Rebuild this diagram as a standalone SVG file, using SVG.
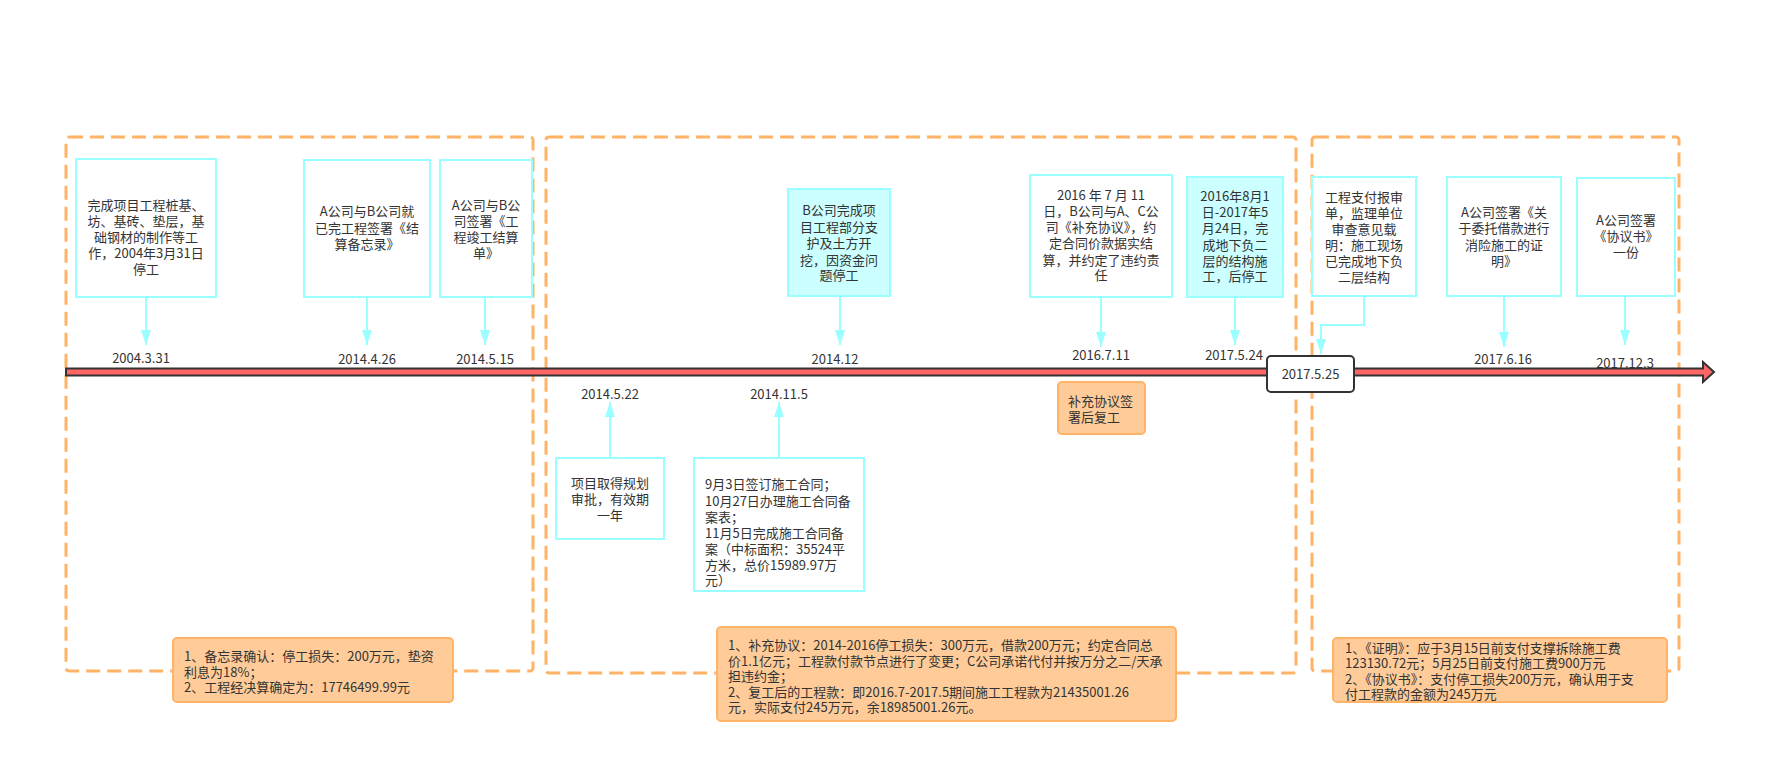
<svg xmlns="http://www.w3.org/2000/svg" width="1776" height="784" viewBox="0 0 1776 784">
<style>
.grp{fill:none;stroke:#FFB366;stroke-width:3;stroke-dasharray:14 7}
.node{fill:#FFFFFF;stroke:#99FFFF;stroke-width:2}
.nodef{fill:#CCFFFF;stroke:#99FFFF;stroke-width:2}
.note{fill:#FFCC99;stroke:#FFB366;stroke-width:2}
.conn{fill:none;stroke:#99FFFF;stroke-width:2}
text{font-family:"Noto Sans CJK SC","Noto Sans",sans-serif;font-size:13px;fill:#333333}
.c{text-anchor:middle}
</style>
<defs>
<marker id="ah" viewBox="0 0 15 10" refX="15" refY="5" markerWidth="15" markerHeight="10" markerUnits="userSpaceOnUse" orient="auto">
<path d="M0,0 L15,5 L0,10 Z" fill="#99FFFF"/>
</marker>
</defs>
<rect width="1776" height="784" fill="#FFFFFF"/>

<g id="groups">
<rect class="grp" x="66" y="137" width="467" height="534" rx="3"/>
<rect class="grp" x="546" y="137" width="750" height="536" rx="3"/>
<rect class="grp" x="1312" y="137" width="367" height="534" rx="3"/>
</g>

<g id="timeline">
<path d="M66,368.5 H1703 V362 L1714,372 L1703,382 V375.5 H66 Z" fill="#FF6666" stroke="#333333" stroke-width="2" stroke-linejoin="miter"/>
</g>

<g id="connectors">
<path class="conn" d="M146,297 V345" marker-end="url(#ah)"/>
<path class="conn" d="M367,297 V345" marker-end="url(#ah)"/>
<path class="conn" d="M485,297 V345" marker-end="url(#ah)"/>
<path class="conn" d="M840,296 V345" marker-end="url(#ah)"/>
<path class="conn" d="M1101,297 V347" marker-end="url(#ah)"/>
<path class="conn" d="M1235,297 V345" marker-end="url(#ah)"/>
<path class="conn" d="M1364,296 V325 H1321 V354" marker-end="url(#ah)"/>
<path class="conn" d="M1504,296 V347" marker-end="url(#ah)"/>
<path class="conn" d="M1625,296 V345" marker-end="url(#ah)"/>
<path class="conn" d="M610,458 V402" marker-end="url(#ah)"/>
<path class="conn" d="M779,458 V402" marker-end="url(#ah)"/>
</g>

<g id="dates">
<text class="c" x="141" y="363">2004.3.31</text>
<text class="c" x="367" y="363.5">2014.4.26</text>
<text class="c" x="485" y="363.5">2014.5.15</text>
<text class="c" x="835" y="363.5">2014.12</text>
<text class="c" x="1101" y="359.5">2016.7.11</text>
<text class="c" x="1234" y="359.5">2017.5.24</text>
<text class="c" x="1503" y="364">2017.6.16</text>
<text class="c" x="1625" y="368">2017.12.3</text>
<text class="c" x="610" y="398.5">2014.5.22</text>
<text class="c" x="779" y="398.5">2014.11.5</text>
</g>

<g id="n1">
<rect class="node" x="76" y="159" width="140" height="138"/>
<text class="c" x="146" y="209.5">完成项目工程桩基、</text>
<text class="c" x="146" y="225.5">坊、基砖、垫层，基</text>
<text class="c" x="146" y="241.5">础钢材的制作等工</text>
<text class="c" x="146" y="257.5">作，2004年3月31日</text>
<text class="c" x="146" y="273.5">停工</text>
</g>
<g id="n2">
<rect class="node" x="304" y="160" width="126" height="137"/>
<text class="c" x="367" y="216">A公司与B公司就</text>
<text class="c" x="367" y="232.5">已完工程签署《结</text>
<text class="c" x="367" y="249">算备忘录》</text>
</g>
<g id="n3">
<rect class="node" x="440" y="160" width="92" height="137"/>
<text class="c" x="486" y="209.5">A公司与B公</text>
<text class="c" x="486" y="226">司签署《工</text>
<text class="c" x="486" y="242">程竣工结算</text>
<text class="c" x="486" y="258">单》</text>
</g>
<g id="n4">
<rect class="nodef" x="788" y="189" width="102" height="107"/>
<text class="c" x="839" y="215">B公司完成项</text>
<text class="c" x="839" y="231.5">目工程部分支</text>
<text class="c" x="839" y="248">护及土方开</text>
<text class="c" x="839" y="264.5">挖，因资金问</text>
<text class="c" x="839" y="280">题停工</text>
</g>
<g id="n5">
<rect class="node" x="1030" y="175" width="142" height="122"/>
<text class="c" x="1101" y="199.5">2016 年 7 月 11</text>
<text class="c" x="1101" y="215.5">日，B公司与A、C公</text>
<text class="c" x="1101" y="231.5">司《补充协议》，约</text>
<text class="c" x="1101" y="248">定合同价款据实结</text>
<text class="c" x="1101" y="264.5">算，并约定了违约责</text>
<text class="c" x="1101" y="280">任</text>
</g>
<g id="n6">
<rect class="nodef" x="1187" y="177" width="96" height="120"/>
<text class="c" x="1235" y="200.5">2016年8月1</text>
<text class="c" x="1235" y="217">日-2017年5</text>
<text class="c" x="1235" y="233">月24日，完</text>
<text class="c" x="1235" y="249.5">成地下负二</text>
<text class="c" x="1235" y="265.5">层的结构施</text>
<text class="c" x="1235" y="281">工，后停工</text>
</g>
<g id="n7">
<rect class="node" x="1312" y="177" width="104" height="119"/>
<text class="c" x="1364" y="201.5">工程支付报审</text>
<text class="c" x="1364" y="217.5">单，监理单位</text>
<text class="c" x="1364" y="233.5">审查意见载</text>
<text class="c" x="1364" y="249.5">明：施工现场</text>
<text class="c" x="1364" y="265.5">已完成地下负</text>
<text class="c" x="1364" y="281.5">二层结构</text>
</g>
<g id="n8">
<rect class="node" x="1447" y="177" width="114" height="119"/>
<text class="c" x="1504" y="217">A公司签署《关</text>
<text class="c" x="1504" y="233">于委托借款进行</text>
<text class="c" x="1504" y="249.5">消险施工的证</text>
<text class="c" x="1504" y="265.5">明》</text>
</g>
<g id="n9">
<rect class="node" x="1577" y="178" width="98" height="118"/>
<text class="c" x="1626" y="224.5">A公司签署</text>
<text class="c" x="1626" y="241">《协议书》</text>
<text class="c" x="1626" y="257">一份</text>
</g>
<g id="n10">
<rect class="node" x="556" y="458" width="108" height="81"/>
<text class="c" x="610" y="488">项目取得规划</text>
<text class="c" x="610" y="504">审批，有效期</text>
<text class="c" x="610" y="519.5">一年</text>
</g>
<g id="n11">
<rect class="node" x="694" y="458" width="170" height="133"/>
<text x="705" y="489">9月3日签订施工合同；</text>
<text x="705" y="505.5">10月27日办理施工合同备</text>
<text x="705" y="521.5">案表；</text>
<text x="705" y="537.5">11月5日完成施工合同备</text>
<text x="705" y="553.5">案（中标面积：35524平</text>
<text x="705" y="569.5">方米，总价15989.97万</text>
<text x="705" y="585">元）</text>
</g>

<g id="resume">
<rect class="note" x="1058" y="382" width="87" height="52" rx="4"/>
<text x="1068" y="405.5">补充协议签</text>
<text x="1068" y="421.5">署后复工</text>
</g>

<g id="d20170525">
<rect x="1267" y="356" width="87" height="36" rx="4" fill="#FFFFFF" stroke="#333333" stroke-width="2"/>
<text class="c" x="1310.5" y="378.5">2017.5.25</text>
</g>

<g id="note1">
<rect class="note" x="173" y="638" width="280" height="64" rx="4"/>
<text x="184" y="661">1、备忘录确认：停工损失：200万元，垫资</text>
<text x="184" y="676.5">利息为18%；</text>
<text x="184" y="692">2、工程经决算确定为：17746499.99元</text>
</g>
<g id="note2">
<rect class="note" x="717" y="627" width="459" height="94" rx="4"/>
<text x="728" y="650">1、补充协议：2014-2016停工损失：300万元，借款200万元；约定合同总</text>
<text x="728" y="665.5">价1.1亿元；工程款付款节点进行了变更；C公司承诺代付并按万分之二/天承</text>
<text x="728" y="681">担违约金；</text>
<text x="728" y="696.5">2、复工后的工程款：即2016.7-2017.5期间施工工程款为21435001.26</text>
<text x="728" y="712">元，实际支付245万元，余18985001.26元。</text>
</g>
<g id="note3">
<rect class="note" x="1333" y="638" width="334" height="64" rx="4"/>
<text x="1345" y="652.5">1、《证明》：应于3月15日前支付支撑拆除施工费</text>
<text x="1345" y="668">123130.72元；5月25日前支付施工费900万元</text>
<text x="1345" y="683.5">2、《协议书》：支付停工损失200万元，确认用于支</text>
<text x="1345" y="699">付工程款的金额为245万元</text>
</g>
</svg>
